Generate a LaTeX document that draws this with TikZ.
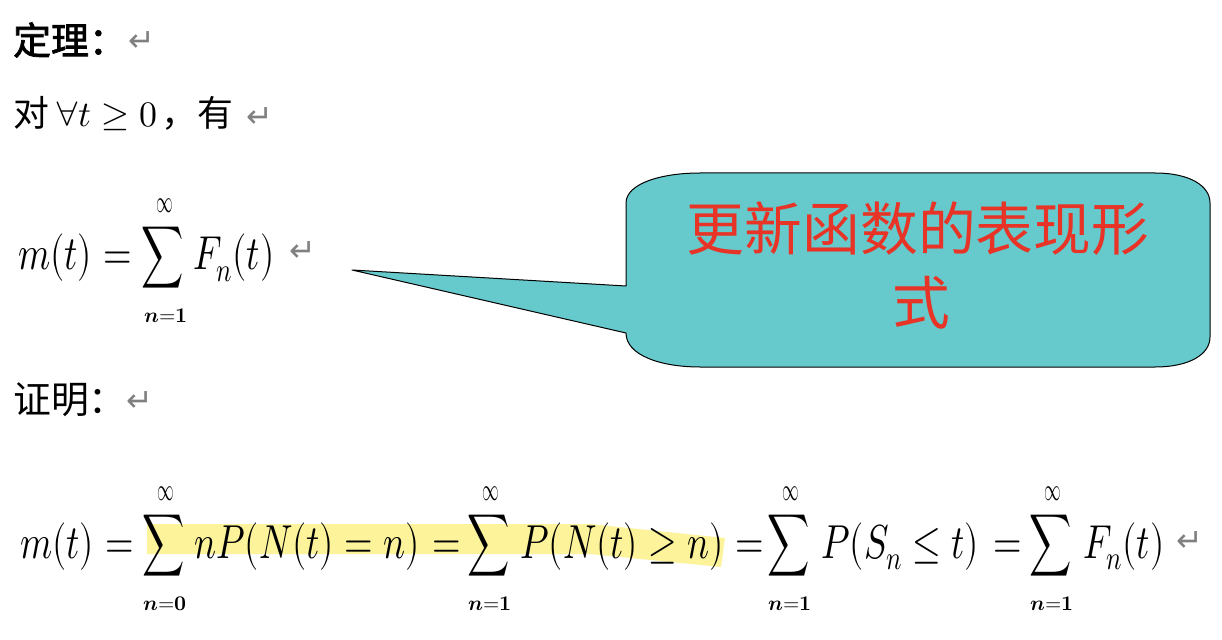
\documentclass[tikz,border=0pt]{standalone}
\usepackage{fontspec}
\usepackage{unicode-math}
\setmathfont{Latin Modern Math}
\usepackage{graphicx}
\newfontfamily\cjk{Noto Sans CJK SC}
\newfontfamily\cjkb{Noto Sans CJK SC}[FakeBold=2]
\newfontfamily\djv{DejaVu Sans}
\definecolor{retgray}{RGB}{128,128,128}
\definecolor{hiyellow}{RGB}{252,243,155}
\definecolor{callfill}{RGB}{102,201,204}
\definecolor{callred}{RGB}{232,52,38}
\newcommand\hsq[1]{\scalebox{0.8}[1.04]{#1}}
\newcommand\bigsum{\scalebox{0.64}[0.95]{$\displaystyle\sum$}}
\newcommand\infmark{\scalebox{0.8}[1.5]{$\infty$}}
\tikzset{
  mth/.style={inner sep=0pt, anchor=base west, font=\fontsize{46}{50}\selectfont},
  sumsty/.style={inner sep=0pt, font=\fontsize{46}{50}\selectfont},
  lim/.style={inner sep=0pt, font=\fontsize{21}{22}\selectfont},
  cn/.style={inner sep=0pt, anchor=west, font=\fontsize{37}{40}\selectfont\cjk},
  ret/.style={inner sep=0pt, anchor=west, text=retgray, font=\fontsize{32}{34}\selectfont\djv},
  calltext/.style={inner sep=0pt, text=callred, font=\fontsize{58}{60}\selectfont\cjk}
}
\begin{document}
\begin{tikzpicture}[x=1bp,y=-1bp]
\fill[white] (0,0) rectangle (1222,640);
\useasboundingbox (0,0) rectangle (1222,640);

% heading lines
\node[cn, font=\fontsize{38}{40}\selectfont\cjkb] (thm) at (13,40) {定理：};
\node[ret] (r1) at (128,42) {↵};
\node[cn, font=\fontsize{36}{40}\selectfont\cjk] (cond) at (13,114) {对\,$\forall t \geq 0$\hspace{4bp}，有};
\node[ret] (r2) at (246,118) {↵};

% formula 1
\node[mth] (f1a) at (18,270) {\hsq{$m(t)$}};
\node[mth] (f1b) at (103,270) {\hsq{$=$}};
\node[sumsty] (f1s) at (162.5,257.5) {\bigsum};
\node[lim] (f1u) at (165,206) {\infmark};
\node[lim] (f1l) at (166,316) {$\symbfit{n}{=}\symbf{1}$};
\node[mth] (f1c) at (193,270) {\hsq{$F_n(t)$}};
\node[ret] (r3) at (289,252) {↵};

% proof
\node[cn, font=\fontsize{38}{40}\selectfont\cjk] (prf) at (13,400) {证明：};
\node[ret] (r4) at (126,402) {↵};

% highlight
\fill[hiyellow] (147,524) -- (590,524) -- (725,538) -- (721,567) -- (590,554) -- (147,554) -- cycle;

% formula 2
\node[mth] (f2a) at (20,558) {\hsq{$m(t)$}};
\node[mth] (f2b) at (105,558) {\hsq{$=$}};
\node[sumsty] (s1) at (164,545.5) {\bigsum};
\node[lim] (s1u) at (166,494) {\infmark};
\node[lim] (s1l) at (165,604) {$\symbfit{n}{=}\symbf{0}$};
\node[mth] (f2c) at (194,558) {\hsq{$nP(N(t)=n)$}};
\node[mth] (f2d) at (432,558) {\hsq{$=$}};
\node[sumsty] (s2) at (489,545.5) {\bigsum};
\node[lim] (s2u) at (491,494) {\infmark};
\node[lim] (s2l) at (490,604) {$\symbfit{n}{=}\symbf{1}$};
\node[mth] (f2e) at (520,558) {\hsq{$P(N(t)\geq n)$}};
\node[mth] (f2f) at (735,558) {\hsq{$=$}};
\node[sumsty] (s3) at (789,545.5) {\bigsum};
\node[lim] (s3u) at (791,494) {\infmark};
\node[lim] (s3l) at (790,604) {$\symbfit{n}{=}\symbf{1}$};
\node[mth] (f2g) at (821,558) {\hsq{$P(S_n\leq t)$}};
\node[mth] (f2h) at (993,558) {\hsq{$=$}};
\node[sumsty] (s4) at (1051,545.5) {\bigsum};
\node[lim] (s4u) at (1053,494) {\infmark};
\node[lim] (s4l) at (1052,604) {$\symbfit{n}{=}\symbf{1}$};
\node[mth] (f2i) at (1083,558) {\hsq{$F_n(t)$}};
\node[ret] (r5) at (1176,542) {↵};

% callout
\draw[fill=callfill, line width=1bp, line join=round]
  (352,270) -- (626,286) -- (626,203)
  .. controls (626,184) and (660,173) .. (700,173)
  -- (1155,173)
  .. controls (1190,173) and (1210,186) .. (1210,203)
  -- (1210,337)
  .. controls (1210,354) and (1190,367) .. (1155,367)
  -- (700,367)
  .. controls (660,367) and (626,355) .. (626,333)
  -- cycle;
\node[calltext] (ct1) at (918,229) {更新函数的表现形};
\node[calltext] (ct2) at (921,303) {式};
\end{tikzpicture}
\end{document}
